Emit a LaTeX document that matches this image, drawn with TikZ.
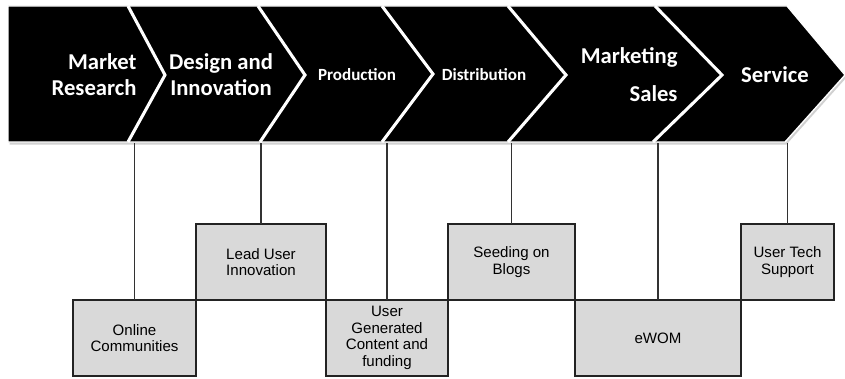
\documentclass[tikz,border=0pt]{standalone}
\usepackage{fontspec}
\setmainfont{Liberation Sans}
\newfontfamily\chevfont{Carlito}
\usetikzlibrary{positioning}

\tikzset{every picture/.style={line width=0.75pt}}
\tikzset{
	stage/.style={text=white, inner sep=0pt, font=\chevfont\bfseries\fontsize{17}{19.5}\selectfont},
	small stage/.style={text=white, inner sep=0pt, font=\chevfont\bfseries\fontsize{12.8}{15}\selectfont},
	userbox/.style={draw={rgb, 255:red, 35; green, 35; blue, 35 }, fill={rgb, 255:red, 217; green, 217; blue, 217 }, line width=0.9pt, inner sep=0pt, outer sep=0pt, align=center, minimum height=57pt, font=\fontsize{11.3}{12.5}\selectfont},
	link/.style={draw={rgb, 255:red, 50; green, 50; blue, 50 }, line width=0.9pt}}

\begin{document}
\begin{tikzpicture}[x=0.75pt,y=0.75pt,yscale=-1,xscale=1]
	\useasboundingbox (0,0) rectangle (845,378);

	%Shape: band shadow
	\fill [black!30, opacity=0.6] (9.5,8.5) -- (788.5,8.5) -- (846.5,77.5) -- (786.5,144.5) -- (9.5,144.5) -- cycle ;
	%Shape: band
	\draw [white, line width=1pt, fill=black] (8,6) -- (787,6) -- (845,75) -- (785,142) -- (8,142) -- cycle ;
	%Straight Lines: chevron edges
	\draw [white, line width=2.3pt, line join=miter] (128,6) -- (165,75) -- (128,142) ;
	\draw [white, line width=2.3pt, line join=miter] (258,6) -- (305,75) -- (260,142) ;
	\draw [white, line width=2.3pt, line join=miter] (382,6) -- (433,74) -- (382,142) ;
	\draw [white, line width=2.3pt, line join=miter] (508,6) -- (566,75) -- (508,142) ;
	\draw [white, line width=2.3pt, line join=miter] (655,6) -- (722,75) -- (653,142) ;
	\coordinate (base) at (0,143);

	% Text Node
	\node [stage, align=right, anchor=east] (mr) at (137,75) {Market\\Research};
	% Text Node
	\node [stage, align=center] (di) at (221,75) {Design and\\Innovation};
	% Text Node
	\node [small stage] (pr) at (357,75) {Production};
	% Text Node
	\node [small stage] (ds) at (484,75) {Distribution};
	% Text Node
	\node [stage, align=right, anchor=east] (ms) at (678,75) {Marketing\\[9pt]Sales};
	% Text Node
	\node [stage] (sv) at (775,75) {Service};

	% Boxes
	\node [userbox, minimum width=92.25pt, anchor=south west] (oc) at (73,376) {Online\\Communities};
	\node [userbox, minimum width=97.5pt, anchor=south west] (lui) at (oc.north east) {Lead User\\Innovation};
	\node [userbox, minimum width=91.5pt, anchor=north west] (ugc) at (lui.south east) {User\\Generated\\Content and\\funding};
	\node [userbox, minimum width=95.25pt, anchor=south west] (sob) at (ugc.north east) {Seeding on\\Blogs};
	\node [userbox, minimum width=124.5pt, anchor=north west] (ewom) at (sob.south east) {eWOM};
	\node [userbox, minimum width=69.75pt, anchor=south west] (uts) at (ewom.north east) {User Tech\\Support};

	% Links
	\draw [link] (oc.north) -- (oc.north |- base) ;
	\draw [link] (lui.north) -- (lui.north |- base) ;
	\draw [link] (ugc.north) -- (ugc.north |- base) ;
	\draw [link] (sob.north) -- (sob.north |- base) ;
	\draw [link] (ewom.north) -- (ewom.north |- base) ;
	\draw [link] (uts.north) -- (uts.north |- base) ;

\end{tikzpicture}
\end{document}
